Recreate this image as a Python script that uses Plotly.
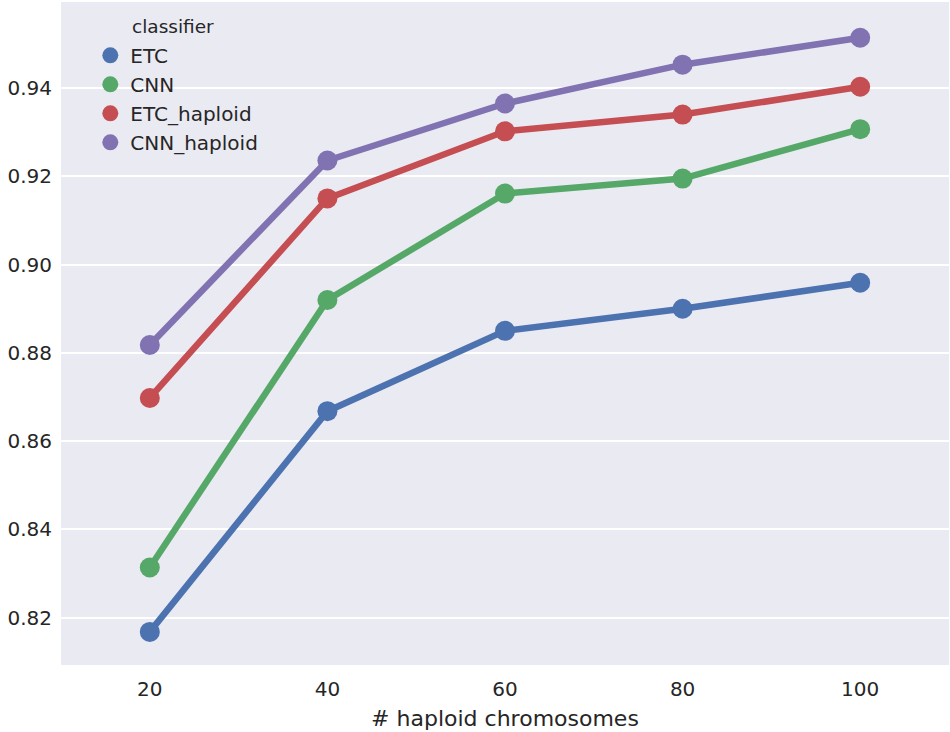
import plotly.graph_objects as go

chromosomes = ["20", "40", "60", "80", "100"]
etc = [0.8168, 0.8668, 0.8850, 0.8900, 0.8959]
cnn = [0.8314, 0.8920, 0.9161, 0.9195, 0.9307]
etc_haploid = [0.8698, 0.9150, 0.9302, 0.9340, 0.9403]
cnn_haploid = [0.8818, 0.9236, 0.9365, 0.9453, 0.9514]

series = [
    ("ETC", etc, "#4C72B0"),
    ("CNN", cnn, "#55A868"),
    ("ETC_haploid", etc_haploid, "#C44E52"),
    ("CNN_haploid", cnn_haploid, "#8172B2"),
]

fig = go.Figure()
for name, vals, color in series:
    fig.add_trace(go.Scatter(
        x=chromosomes, y=vals, mode="lines+markers", name=name,
        line=dict(color=color, width=6.5),
        marker=dict(color=color, size=20),
        showlegend=False,
    ))
    # marker-only entry for the legend (seaborn style)
    fig.add_trace(go.Scatter(
        x=[None], y=[None], mode="markers", name=name,
        marker=dict(color=color, size=20),
    ))

fig.update_layout(
    width=950, height=732,
    margin=dict(l=61, r=1, t=2, b=67),
    plot_bgcolor="#EAEAF2",
    paper_bgcolor="white",
    font=dict(family="DejaVu Sans", size=20, color="#262626"),
    legend=dict(
        x=0.033, y=0.949, xanchor="left", yanchor="top",
        bgcolor="rgba(0,0,0,0)",
        font=dict(size=20),
        tracegroupgap=0,
    ),
    annotations=[dict(
        text="classifier", xref="paper", yref="paper",
        x=0.078, y=0.963, xanchor="left", yanchor="middle",
        showarrow=False, font=dict(size=18.5, color="#262626"),
    )],
)
fig.update_xaxes(
    type="category", range=[-0.5, 4.5],
    showgrid=False, zeroline=False, showline=False,
    ticks="", ticklabelstandoff=10,
    title=dict(text="# haploid chromosomes", font=dict(size=22), standoff=10),
)
fig.update_yaxes(
    range=[0.8093, 0.9595], tickvals=[0.82, 0.84, 0.86, 0.88, 0.90, 0.92, 0.94],
    tickformat=".2f",
    showgrid=True, gridcolor="white", gridwidth=2, zeroline=False, showline=False,
    ticks="", ticklabelstandoff=8,
)

fig.write_html(
    "out.html",
    config={"displayModeBar": False},
    post_script="document.body.style.margin='0';",
)
